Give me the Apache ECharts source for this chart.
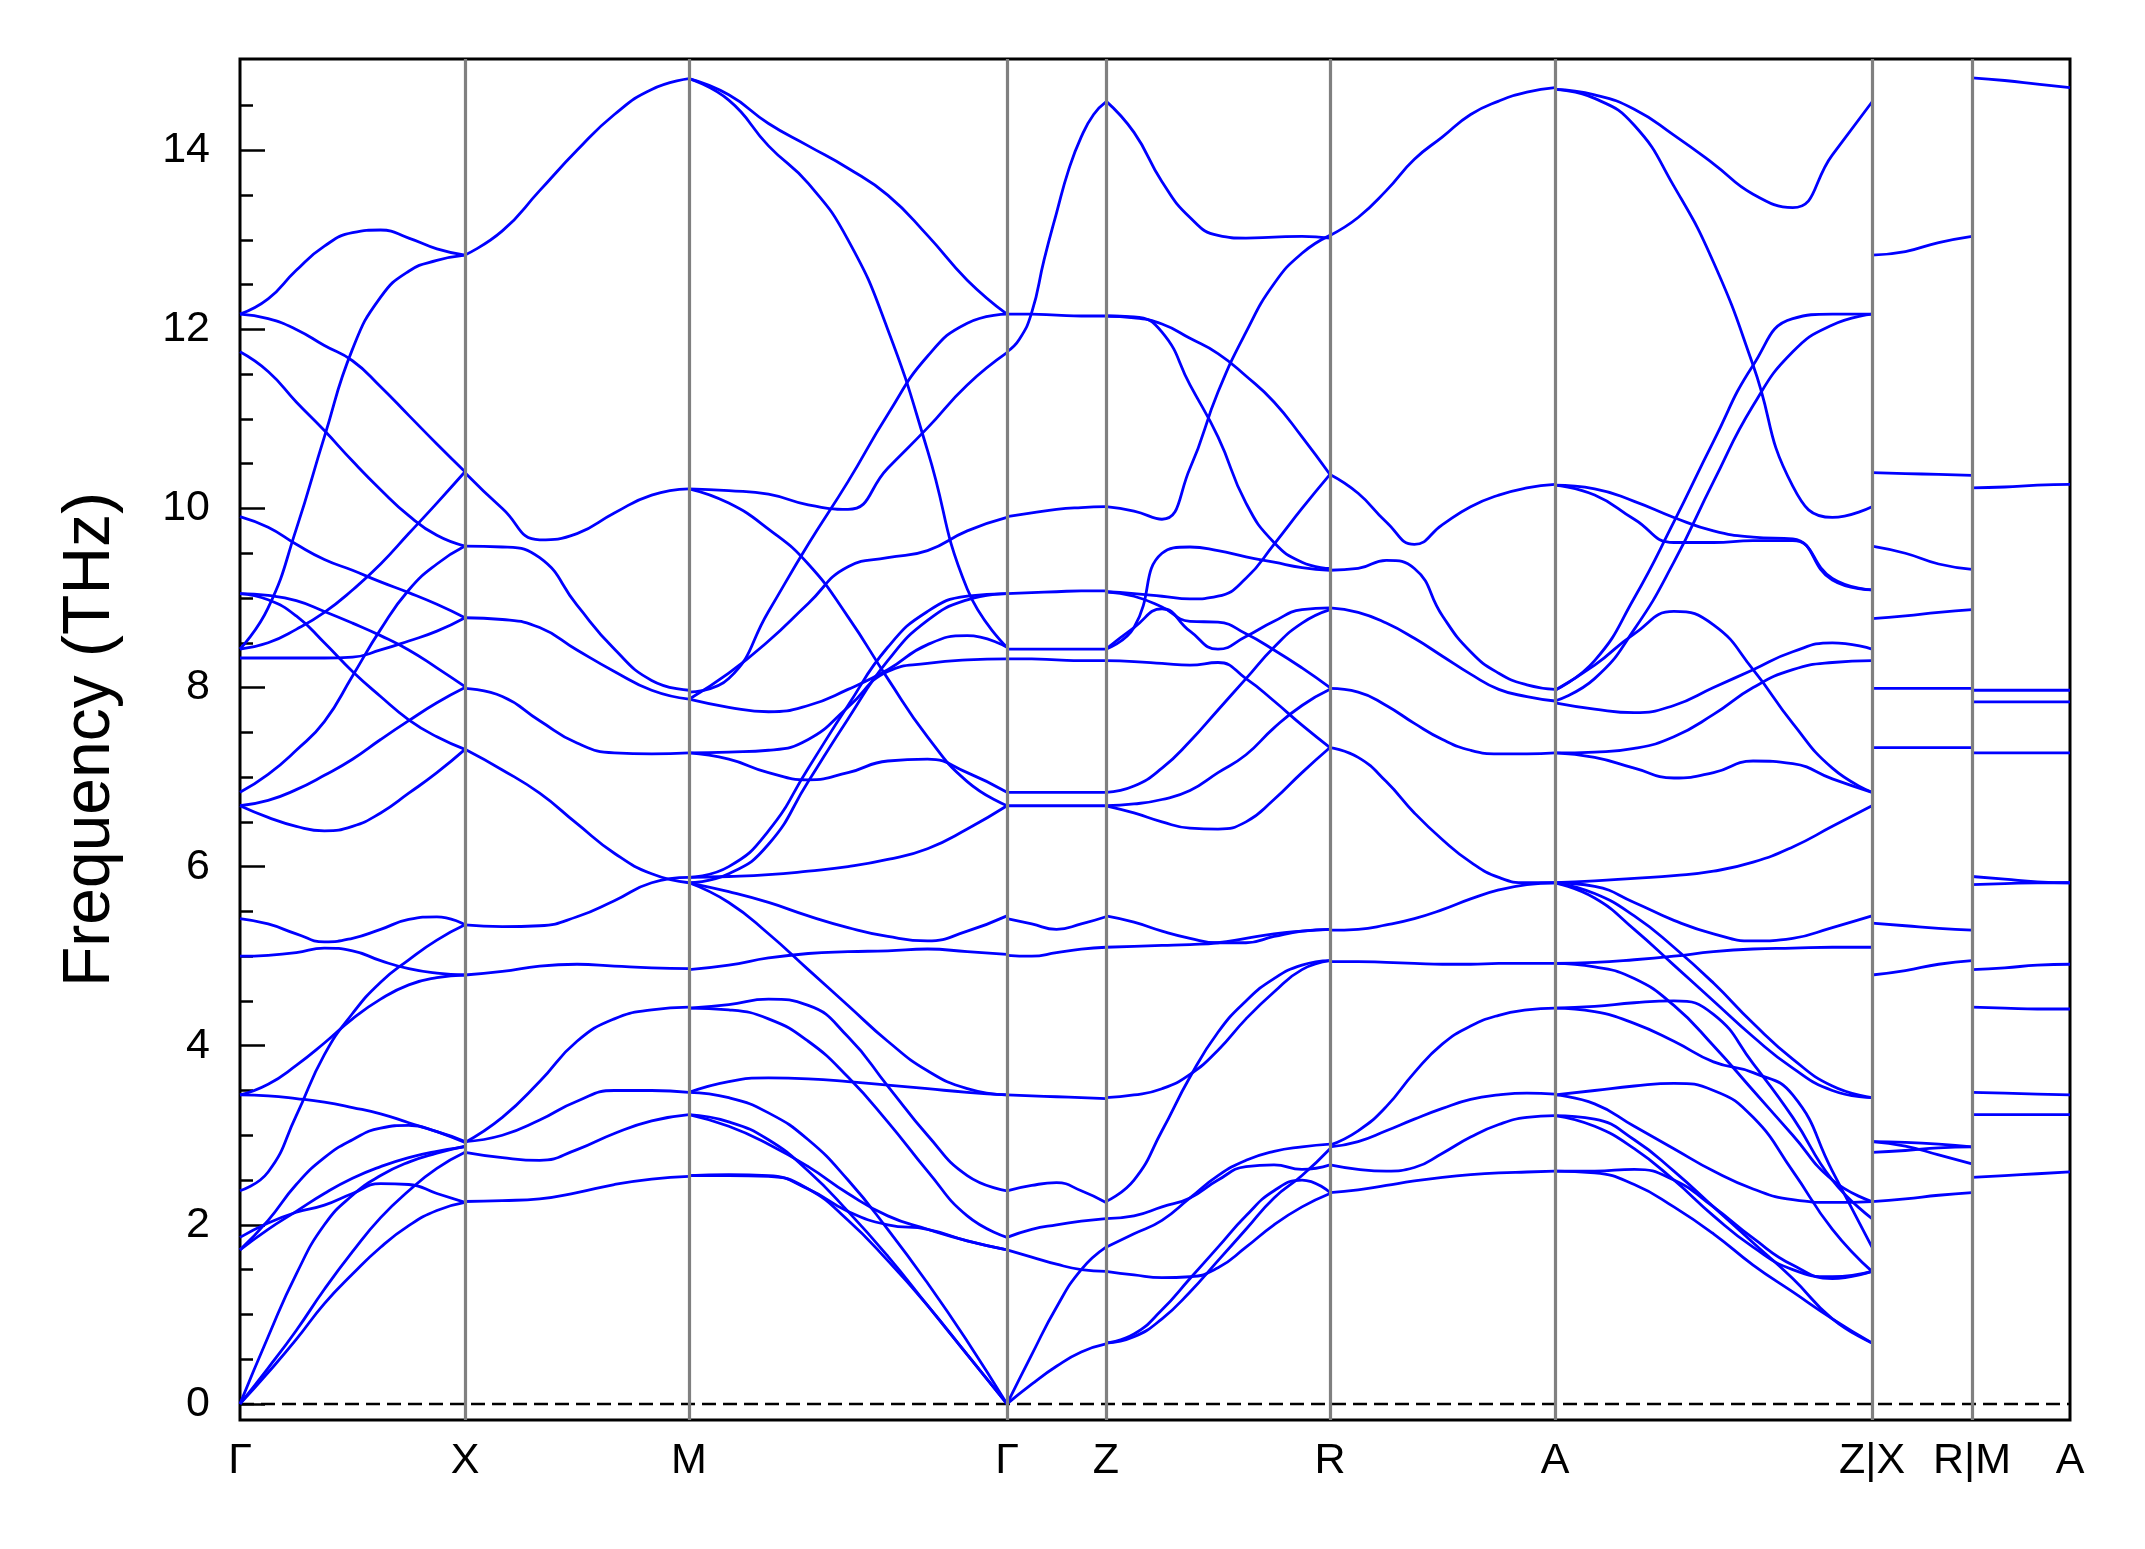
<!DOCTYPE html>
<html>
<head>
<meta charset="utf-8">
<script src="https://cdn.jsdelivr.net/npm/echarts@6/dist/echarts.min.js"></script>
<style>
  html, body { margin: 0; padding: 0; background: #fff; }
  #chart { width: 2145px; height: 1549px; }
</style>
</head>
<body>
<div id="chart"></div>
<script>
// high-symmetry points along the path (cumulative k-distance)
const kTicks = [0, 2.25, 4.49, 7.67, 8.66, 10.90, 13.15, 16.32, 17.32, 18.30];
const kLabels = ['Γ', 'X', 'M', 'Γ', 'Z', 'R', 'A', 'Z|X', 'R|M', 'A'];

const yMajor = [0, 2, 4, 6, 8, 10, 12, 14];
const yMinor = [0.5, 1, 1.5, 2.5, 3, 3.5, 4.5, 5, 5.5, 6.5, 7, 7.5, 8.5, 9, 9.5,
  10.5, 11, 11.5, 12.5, 13, 13.5, 14.5];

// frequencies (THz), each row is one branch sampled evenly along the segment
const bandsGX = [
  [12.17, 12.34, 12.66, 12.93, 13.08, 13.11, 13.02, 12.9, 12.83],
  [8.43, 8.89, 9.77, 10.8, 11.78, 12.36, 12.65, 12.77, 12.83],
  [12.17, 12.12, 12.0, 11.82, 11.65, 11.36, 11.04, 10.72, 10.41],
  [11.75, 11.53, 11.19, 10.87, 10.53, 10.21, 9.92, 9.7, 9.58],
  [9.91, 9.79, 9.6, 9.43, 9.31, 9.18, 9.06, 8.93, 8.78],
  [9.05, 9.03, 8.97, 8.85, 8.72, 8.58, 8.42, 8.22, 8.01],
  [9.05, 8.98, 8.8, 8.5, 8.18, 7.9, 7.64, 7.45, 7.31],
  [8.43, 8.5, 8.65, 8.84, 9.09, 9.38, 9.72, 10.06, 10.41],
  [6.83, 7.03, 7.3, 7.62, 8.13, 8.65, 9.09, 9.38, 9.58],
  [8.33, 8.33, 8.33, 8.33, 8.34, 8.42, 8.52, 8.63, 8.78],
  [6.68, 6.74, 6.86, 7.02, 7.2, 7.42, 7.63, 7.83, 8.0],
  [6.68, 6.55, 6.45, 6.4, 6.45, 6.6, 6.82, 7.05, 7.31],
  [5.42, 5.36, 5.25, 5.16, 5.2, 5.3, 5.41, 5.44, 5.35],
  [5.0, 5.01, 5.04, 5.09, 5.06, 4.95, 4.86, 4.81, 4.79],
  [2.38, 2.59, 3.22, 3.9, 4.36, 4.71, 4.96, 5.18, 5.35],
  [3.45, 3.57, 3.78, 4.03, 4.3, 4.52, 4.68, 4.76, 4.79],
  [3.45, 3.44, 3.41, 3.37, 3.31, 3.24, 3.14, 3.04, 2.92],
  [0, 0.35, 0.72, 1.12, 1.45, 1.75, 1.99, 2.16, 2.25],
  [0, 0.4, 0.82, 1.28, 1.7, 2.08, 2.38, 2.63, 2.81],
  [0, 0.75, 1.45, 2.0, 2.33, 2.55, 2.7, 2.8, 2.88],
  [1.72, 2.05, 2.45, 2.75, 2.95, 3.08, 3.11, 3.04, 2.93],
  [1.86, 2.02, 2.14, 2.22, 2.35, 2.46, 2.45, 2.35, 2.25],
  [1.72, 1.95, 2.15, 2.35, 2.52, 2.65, 2.75, 2.82, 2.87]
];

const bandsXM = [
  [12.83, 13.1, 13.55, 14.0, 14.4, 14.68, 14.8],
  [10.4, 10.0, 9.65, 9.72, 9.95, 10.15, 10.22],
  [9.58, 9.57, 9.45, 8.92, 8.43, 8.08, 7.97],
  [8.78, 8.76, 8.67, 8.42, 8.18, 7.97, 7.87],
  [7.99, 7.9, 7.63, 7.38, 7.27, 7.26, 7.27],
  [7.31, 7.08, 6.82, 6.48, 6.15, 5.92, 5.82],
  [5.35, 5.33, 5.34, 5.44, 5.62, 5.82, 5.88],
  [4.79, 4.83, 4.89, 4.91, 4.89, 4.87, 4.86],
  [2.92, 3.2, 3.6, 4.05, 4.3, 4.4, 4.43],
  [2.93, 3.0, 3.17, 3.38, 3.5, 3.5, 3.48],
  [2.81, 2.75, 2.72, 2.84, 3.02, 3.16, 3.23],
  [2.26, 2.27, 2.29, 2.36, 2.45, 2.51, 2.54]
];

const bandsMG = [
  [14.8, 14.62, 14.3, 14.05, 13.8, 13.5, 13.05, 12.55, 12.17],
  [14.8, 14.56, 14.05, 13.63, 13.0, 12.0, 10.65, 9.1, 8.45],
  [10.22, 10.2, 10.16, 10.04, 9.99, 10.45, 10.9, 11.38, 11.74],
  [10.22, 10.06, 9.77, 9.38, 8.79, 8.1, 7.45, 6.95, 6.68],
  [7.95, 8.1, 8.85, 9.6, 10.3, 11.05, 11.7, 12.07, 12.17],
  [7.87, 8.16, 8.52, 8.94, 9.35, 9.45, 9.53, 9.75, 9.9],
  [7.87, 7.78, 7.73, 7.8, 7.98, 8.2, 8.48, 8.58, 8.45],
  [7.27, 7.28, 7.3, 7.42, 7.78, 8.18, 8.27, 8.31, 8.32],
  [7.27, 7.2, 7.05, 6.97, 7.05, 7.18, 7.2, 7.05, 6.83],
  [5.82, 5.92, 6.25, 6.95, 7.65, 8.3, 8.75, 8.98, 9.05],
  [5.88, 6.0, 6.4, 7.1, 7.8, 8.45, 8.85, 9.02, 9.05],
  [5.88, 5.89, 5.91, 5.95, 6.0, 6.08, 6.2, 6.42, 6.68],
  [5.82, 5.72, 5.6, 5.45, 5.32, 5.22, 5.17, 5.28, 5.45],
  [5.82, 5.6, 5.25, 4.85, 4.45, 4.05, 3.72, 3.52, 3.45],
  [4.85, 4.9, 4.98, 5.03, 5.05, 5.06, 5.08, 5.05, 5.02],
  [4.42, 4.46, 4.52, 4.45, 4.1, 3.55, 3.0, 2.55, 2.38],
  [4.42, 4.4, 4.3, 4.05, 3.65, 3.15, 2.6, 2.1, 1.86],
  [3.48, 3.6, 3.64, 3.63, 3.6, 3.56, 3.52, 3.48, 3.45],
  [3.48, 3.42, 3.25, 2.95, 2.5, 1.95, 1.35, 0.7, 0],
  [3.23, 3.1, 2.9, 2.65, 2.35, 2.1, 1.95, 1.82, 1.72],
  [3.23, 3.15, 2.95, 2.6, 2.15, 1.65, 1.1, 0.55, 0],
  [2.55, 2.55, 2.54, 2.4, 2.05, 1.6, 1.1, 0.55, 0],
  [2.55, 2.56, 2.55, 2.4, 2.15, 2.0, 1.95, 1.82, 1.72]
];

const bandsGZ = [
  [11.75, 11.89, 12.19, 12.78, 13.3, 13.79, 14.15, 14.4, 14.54],
  [12.17, 12.17, 12.16, 12.15, 12.15],
  [9.91, 9.95, 9.99, 10.01, 10.02],
  [9.05, 9.06, 9.07, 9.08, 9.08],
  [8.43, 8.43, 8.43, 8.43, 8.43],
  [8.32, 8.32, 8.31, 8.3, 8.3],
  [6.83, 6.83, 6.83, 6.83, 6.83],
  [6.68, 6.68, 6.68, 6.68, 6.68],
  [5.42, 5.36, 5.3, 5.36, 5.44],
  [5.01, 5.0, 5.04, 5.08, 5.1],
  [3.45, 3.44, 3.43, 3.42, 3.41],
  [2.38, 2.44, 2.47, 2.38, 2.25],
  [1.86, 1.95, 2.0, 2.04, 2.07],
  [1.72, 1.64, 1.56, 1.5, 1.48],
  [0, 0.55, 1.08, 1.5, 1.75],
  [0, 0.22, 0.42, 0.58, 0.67]
];

const bandsZR = [
  [14.55, 14.2, 13.65, 13.25, 13.05, 13.02, 13.03, 13.04, 13.02],
  [12.15, 12.14, 11.97, 11.38, 10.8, 10.06, 9.62, 9.4, 9.33],
  [12.15, 12.13, 12.06, 11.9, 11.73, 11.48, 11.19, 10.8, 10.38],
  [10.02, 9.97, 9.88, 10.45, 11.3, 11.97, 12.51, 12.85, 13.05],
  [9.07, 9.05, 9.02, 8.99, 9.02, 9.22, 9.6, 10.0, 10.38],
  [8.43, 8.67, 9.5, 9.57, 9.53, 9.46, 9.4, 9.34, 9.31],
  [9.07, 9.02, 8.9, 8.74, 8.73, 8.6, 8.42, 8.22, 8.0],
  [8.3, 8.29, 8.27, 8.25, 8.28, 8.1, 7.85, 7.58, 7.33],
  [6.83, 6.9, 7.1, 7.4, 7.75, 8.1, 8.45, 8.72, 8.87],
  [6.68, 6.7, 6.75, 6.85, 7.05, 7.25, 7.55, 7.8, 7.98],
  [6.68, 6.6, 6.5, 6.43, 6.42, 6.5, 6.75, 7.05, 7.33],
  [8.43, 8.67, 8.88, 8.63, 8.43, 8.57, 8.74, 8.87, 8.89],
  [5.45, 5.38, 5.28, 5.2, 5.15, 5.15, 5.22, 5.28, 5.3],
  [5.1, 5.11, 5.12, 5.13, 5.15, 5.2, 5.25, 5.28, 5.3],
  [3.42, 3.45, 3.52, 3.68, 3.95, 4.3, 4.6, 4.85, 4.95],
  [2.26, 2.5, 3.05, 3.65, 4.15, 4.5, 4.75, 4.9, 4.95],
  [2.07, 2.1, 2.2, 2.3, 2.5, 2.65, 2.67, 2.62, 2.67],
  [1.75, 1.9, 2.05, 2.3, 2.55, 2.72, 2.82, 2.87, 2.9],
  [1.48, 1.44, 1.41, 1.42, 1.52, 1.75, 2.0, 2.2, 2.35],
  [0.68, 0.78, 1.05, 1.4, 1.75, 2.1, 2.38, 2.5, 2.36],
  [0.68, 0.75, 0.95, 1.25, 1.6, 1.95, 2.3, 2.55, 2.85]
];

const bandsRA = [
  [13.05, 13.25, 13.55, 13.9, 14.15, 14.4, 14.55, 14.65, 14.7],
  [10.38, 10.17, 9.85, 9.6, 9.82, 10.02, 10.15, 10.23, 10.27],
  [9.31, 9.33, 9.42, 9.33, 8.8, 8.4, 8.16, 8.03, 7.98],
  [8.89, 8.84, 8.72, 8.55, 8.35, 8.15, 7.98, 7.9, 7.85],
  [7.99, 7.95, 7.8, 7.6, 7.42, 7.3, 7.26, 7.26, 7.27],
  [7.33, 7.22, 6.95, 6.6, 6.3, 6.05, 5.88, 5.82, 5.82],
  [5.29, 5.3, 5.35, 5.42, 5.52, 5.64, 5.74, 5.8, 5.82],
  [4.94, 4.94, 4.93, 4.92, 4.91, 4.91, 4.92, 4.92, 4.92],
  [2.89, 3.05, 3.32, 3.7, 4.02, 4.22, 4.34, 4.4, 4.42],
  [2.87, 2.93, 3.05, 3.18, 3.3, 3.4, 3.45, 3.47, 3.46],
  [2.67, 2.62, 2.6, 2.64, 2.8, 2.98, 3.12, 3.2, 3.22],
  [2.36, 2.39, 2.44, 2.49, 2.53, 2.56, 2.58, 2.59, 2.6]
];

const bandsAZ = [
  [14.68, 14.62, 14.46, 14.17, 13.85, 13.51, 13.36, 13.95, 14.54],
  [14.68, 14.58, 14.28, 13.6, 12.75, 11.6, 10.25, 9.9, 10.02],
  [10.26, 10.15, 9.88, 9.62, 9.62, 9.64, 9.64, 9.22, 9.09],
  [10.26, 10.22, 10.08, 9.9, 9.75, 9.68, 9.66, 9.2, 9.09],
  [7.97, 8.3, 9.0, 9.85, 10.75, 11.6, 12.12, 12.17, 12.17],
  [7.85, 8.1, 8.65, 9.4, 10.3, 11.15, 11.75, 12.05, 12.17],
  [7.83, 7.76, 7.72, 7.8, 8.0, 8.2, 8.4, 8.5, 8.43],
  [7.97, 8.25, 8.6, 8.85, 8.7, 8.2, 7.6, 7.1, 6.83],
  [7.27, 7.28, 7.32, 7.45, 7.7, 8.0, 8.2, 8.28, 8.3],
  [7.27, 7.22, 7.1, 6.99, 7.05, 7.18, 7.15, 6.98, 6.83],
  [5.82, 5.84, 5.87, 5.9, 5.95, 6.05, 6.22, 6.45, 6.68],
  [5.82, 5.78, 5.6, 5.4, 5.25, 5.17, 5.2, 5.32, 5.45],
  [5.82, 5.7, 5.45, 5.1, 4.7, 4.25, 3.85, 3.55, 3.42],
  [5.82, 5.65, 5.3, 4.9, 4.5, 4.1, 3.75, 3.5, 3.42],
  [4.92, 4.93, 4.96, 5.0, 5.05, 5.08, 5.09, 5.1, 5.1],
  [4.92, 4.88, 4.75, 4.45, 4.0, 3.5, 3.0, 2.5, 2.26],
  [4.42, 4.44, 4.48, 4.5, 4.35, 3.8, 3.2, 2.5, 2.07],
  [4.42, 4.38, 4.25, 4.05, 3.82, 3.7, 3.45, 2.6, 1.75],
  [3.45, 3.5, 3.55, 3.58, 3.5, 3.2, 2.6, 1.95, 1.48],
  [3.45, 3.35, 3.1, 2.85, 2.6, 2.4, 2.28, 2.25, 2.26],
  [3.22, 3.18, 2.95, 2.6, 2.2, 1.8, 1.4, 0.95, 0.68],
  [3.22, 3.1, 2.85, 2.5, 2.1, 1.75, 1.5, 1.42, 1.48],
  [2.6, 2.6, 2.62, 2.5, 2.2, 1.85, 1.55, 1.4, 1.48],
  [2.6, 2.58, 2.45, 2.2, 1.9, 1.55, 1.25, 0.95, 0.68]
];

const bandsXR = [
  [12.83, 12.87, 12.97, 13.04],
  [10.4, 10.39, 10.38, 10.37],
  [9.58, 9.5, 9.38, 9.32],
  [8.77, 8.8, 8.84, 8.87],
  [7.99, 7.99, 7.99, 7.99],
  [7.33, 7.33, 7.33, 7.33],
  [5.37, 5.34, 5.31, 5.29],
  [4.79, 4.84, 4.91, 4.95],
  [2.93, 2.92, 2.9, 2.87],
  [2.93, 2.88, 2.78, 2.68],
  [2.81, 2.83, 2.86, 2.87],
  [2.26, 2.29, 2.33, 2.36]
];

const bandsMA = [
  [14.81, 14.78, 14.74, 14.7],
  [10.23, 10.24, 10.26, 10.27],
  [7.97, 7.97, 7.97, 7.97],
  [7.84, 7.84, 7.84, 7.84],
  [7.27, 7.27, 7.27, 7.27],
  [5.89, 5.86, 5.83, 5.82],
  [5.8, 5.81, 5.82, 5.82],
  [4.85, 4.87, 4.9, 4.91],
  [4.43, 4.42, 4.41, 4.41],
  [3.48, 3.47, 3.46, 3.45],
  [3.23, 3.23, 3.23, 3.23],
  [2.53, 2.55, 2.57, 2.59]
];

// segment = [start tick, end tick, branches]
const segments = [
  [0, 1, bandsGX], [1, 2, bandsXM], [2, 3, bandsMG], [3, 4, bandsGZ],
  [4, 5, bandsZR], [5, 6, bandsRA], [6, 7, bandsAZ], [7, 8, bandsXR], [8, 9, bandsMA]
];

const font = "'Liberation Sans', Arial, sans-serif";

const series = [];
// zero line + vertical lines at the high-symmetry points
series.push({
  type: 'line',
  z: 1,
  silent: true,
  symbol: 'none',
  data: [[kTicks[0], 0], [kTicks[kTicks.length - 1], 0]],
  lineStyle: { color: '#000', width: 2.5, type: [14, 7] },
  markLine: {
    silent: true,
    symbol: ['none', 'none'],
    label: { show: false },
    lineStyle: { color: '#808080', width: 3.2, type: 'solid' },
    data: kTicks.slice(1, -1).map((x) => ({ xAxis: x }))
  }
});

segments.forEach(([a, b, bands]) => {
  const x0 = kTicks[a];
  const x1 = kTicks[b];
  bands.forEach((ys) => {
    series.push({
      type: 'line',
      z: 2,
      silent: true,
      symbol: 'none',
      smooth: 0.5,
      data: ys.map((y, i) => [x0 + (x1 - x0) * i / (ys.length - 1), y]),
      lineStyle: { color: '#0000ff', width: 2.8 }
    });
  });
});

const chart = echarts.init(document.getElementById('chart'));
chart.setOption({
  animation: false,
  backgroundColor: '#fff',
  grid: {
    left: 240, right: 75, top: 59, bottom: 129,
    show: true, borderColor: '#000', borderWidth: 3
  },
  xAxis: {
    type: 'value',
    min: kTicks[0],
    max: kTicks[kTicks.length - 1],
    axisLine: { show: false },
    axisTick: { show: false },
    splitLine: { show: false },
    axisLabel: {
      customValues: kTicks,
      showMinLabel: true,
      showMaxLabel: true,
      margin: 20,
      color: '#000',
      fontSize: 43,
      fontFamily: font,
      formatter: (v) => {
        const i = kTicks.indexOf(v);
        return i >= 0 ? kLabels[i] : '';
      }
    }
  },
  yAxis: [
    {
      type: 'value',
      min: -0.18,
      max: 15.02,
      name: 'Frequency (THz)',
      nameLocation: 'middle',
      nameGap: 116,
      nameTextStyle: { color: '#000', fontSize: 66, fontFamily: font },
      axisLine: { show: false },
      splitLine: { show: false },
      axisTick: {
        customValues: yMajor,
        inside: true,
        length: 25,
        lineStyle: { color: '#000', width: 2.5 }
      },
      axisLabel: {
        customValues: yMajor,
        margin: 30,
        color: '#000',
        fontSize: 43,
        fontFamily: font
      }
    },
    {
      type: 'value',
      min: -0.18,
      max: 15.02,
      position: 'left',
      axisLine: { show: false },
      splitLine: { show: false },
      axisLabel: { show: false },
      axisTick: {
        customValues: yMinor,
        inside: true,
        length: 13,
        lineStyle: { color: '#000', width: 2.5 }
      }
    }
  ],
  series: series
});
</script>
</body>
</html>
